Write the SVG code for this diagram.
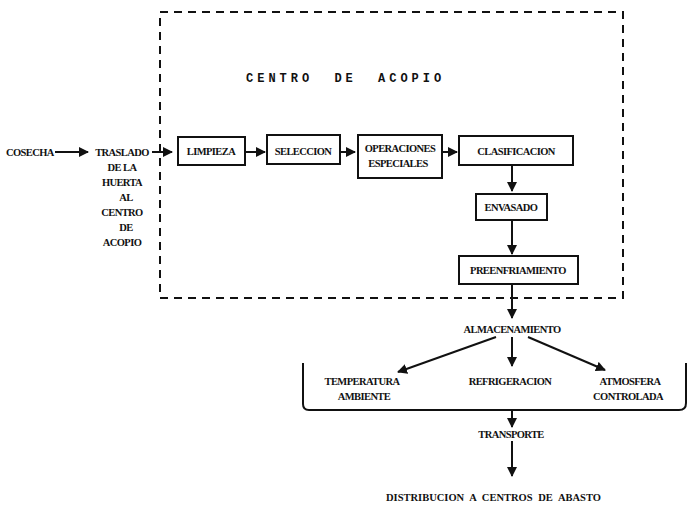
<svg xmlns="http://www.w3.org/2000/svg" width="690" height="508" viewBox="0 0 690 508">
<style>
.t{font-family:"Liberation Serif",serif;font-size:10.5px;font-weight:bold;letter-spacing:-0.6px;fill:#111}
.m{text-anchor:middle}
.b{fill:#fff;stroke:#111;stroke-width:2}
.c{stroke:#111;stroke-width:2;fill:none}
.d{stroke:#111;stroke-width:2;fill:none;stroke-dasharray:8,6}
.h{font-family:"Liberation Mono",monospace;font-size:12px;font-weight:bold;letter-spacing:4px;word-spacing:10px;fill:#111}
</style>
<defs>
<marker id="a" viewBox="0 0 10 10" refX="9" refY="5" markerWidth="5" markerHeight="5" orient="auto" markerUnits="strokeWidth">
<path d="M0,0 L10,5 L0,10 Z" fill="#111"/>
</marker>
</defs>
<rect width="690" height="508" fill="#fff"/>
<g id="centro-acopio">
<rect x="160" y="12" width="463" height="286" class="d"/>
<text x="246" y="82" class="h">CENTRO DE ACOPIO</text>
</g>
<g id="connectors">
<line x1="55" y1="152" x2="88" y2="152" class="c" marker-end="url(#a)"/>
<line x1="152" y1="152" x2="172" y2="152" class="c" marker-end="url(#a)"/>
<line x1="245" y1="152" x2="265" y2="152" class="c" marker-end="url(#a)"/>
<line x1="340" y1="152" x2="355" y2="152" class="c" marker-end="url(#a)"/>
<line x1="442" y1="152" x2="457" y2="152" class="c" marker-end="url(#a)"/>
<line x1="512" y1="165" x2="512" y2="191" class="c" marker-end="url(#a)"/>
<line x1="512" y1="220" x2="512" y2="254" class="c" marker-end="url(#a)"/>
<line x1="512" y1="284" x2="512" y2="318" class="c" marker-end="url(#a)"/>
<line x1="496" y1="337" x2="398" y2="372" class="c" marker-end="url(#a)"/>
<line x1="512" y1="337" x2="512" y2="366" class="c" marker-end="url(#a)"/>
<line x1="528" y1="337" x2="605" y2="370" class="c" marker-end="url(#a)"/>
<path d="M303,363 L303,404 Q303,410 309,410 L679,410 Q686,410 686,403 L686,363" class="c"/>
<line x1="512" y1="410" x2="512" y2="427" class="c" marker-end="url(#a)"/>
<line x1="512" y1="441" x2="512" y2="476" class="c" marker-end="url(#a)"/>
</g>
<g id="cosecha"><text x="6" y="156" class="t">COSECHA</text></g>
<g id="traslado">
<text class="t m" x="122" y="156">TRASLADO</text>
<text class="t m" x="122" y="171">DE LA</text>
<text class="t m" x="122" y="186">HUERTA</text>
<text class="t m" x="126" y="201">AL</text>
<text class="t m" x="122" y="216">CENTRO</text>
<text class="t m" x="126" y="231">DE</text>
<text class="t m" x="122" y="246">ACOPIO</text>
</g>
<g id="limpieza"><rect x="178" y="137" width="67" height="28" class="b"/><text class="t m" x="211" y="155">LIMPIEZA</text></g>
<g id="seleccion"><rect x="267" y="135" width="73" height="29" class="b"/><text class="t m" x="303" y="155">SELECCION</text></g>
<g id="operaciones"><rect x="358" y="135" width="84" height="43" class="b"/><text class="t m" x="400" y="152">OPERACIONES</text><text class="t m" x="398" y="167">ESPECIALES</text></g>
<g id="clasificacion"><rect x="459" y="136" width="114" height="29" class="b"/><text class="t m" x="516" y="155">CLASIFICACION</text></g>
<g id="envasado"><rect x="476" y="194" width="71" height="26" class="b"/><text class="t m" x="511" y="211">ENVASADO</text></g>
<g id="preenfriamiento"><rect x="459" y="256" width="119" height="28" class="b"/><text class="t m" x="518" y="274">PREENFRIAMIENTO</text></g>
<g id="almacenamiento"><text class="t m" x="512" y="333">ALMACENAMIENTO</text></g>
<g id="temperatura"><text class="t m" x="362" y="385">TEMPERATURA</text><text class="t m" x="364" y="400">AMBIENTE</text></g>
<g id="refrigeracion"><text class="t m" x="510" y="385">REFRIGERACION</text></g>
<g id="atmosfera"><text class="t m" x="630" y="385">ATMOSFERA</text><text class="t m" x="628" y="400">CONTROLADA</text></g>
<g id="transporte"><text class="t m" x="511" y="438">TRANSPORTE</text></g>
<g id="distribucion"><text class="t" x="386" y="501" style="letter-spacing:0px;word-spacing:3px">DISTRIBUCION A CENTROS DE ABASTO</text></g>
</svg>
